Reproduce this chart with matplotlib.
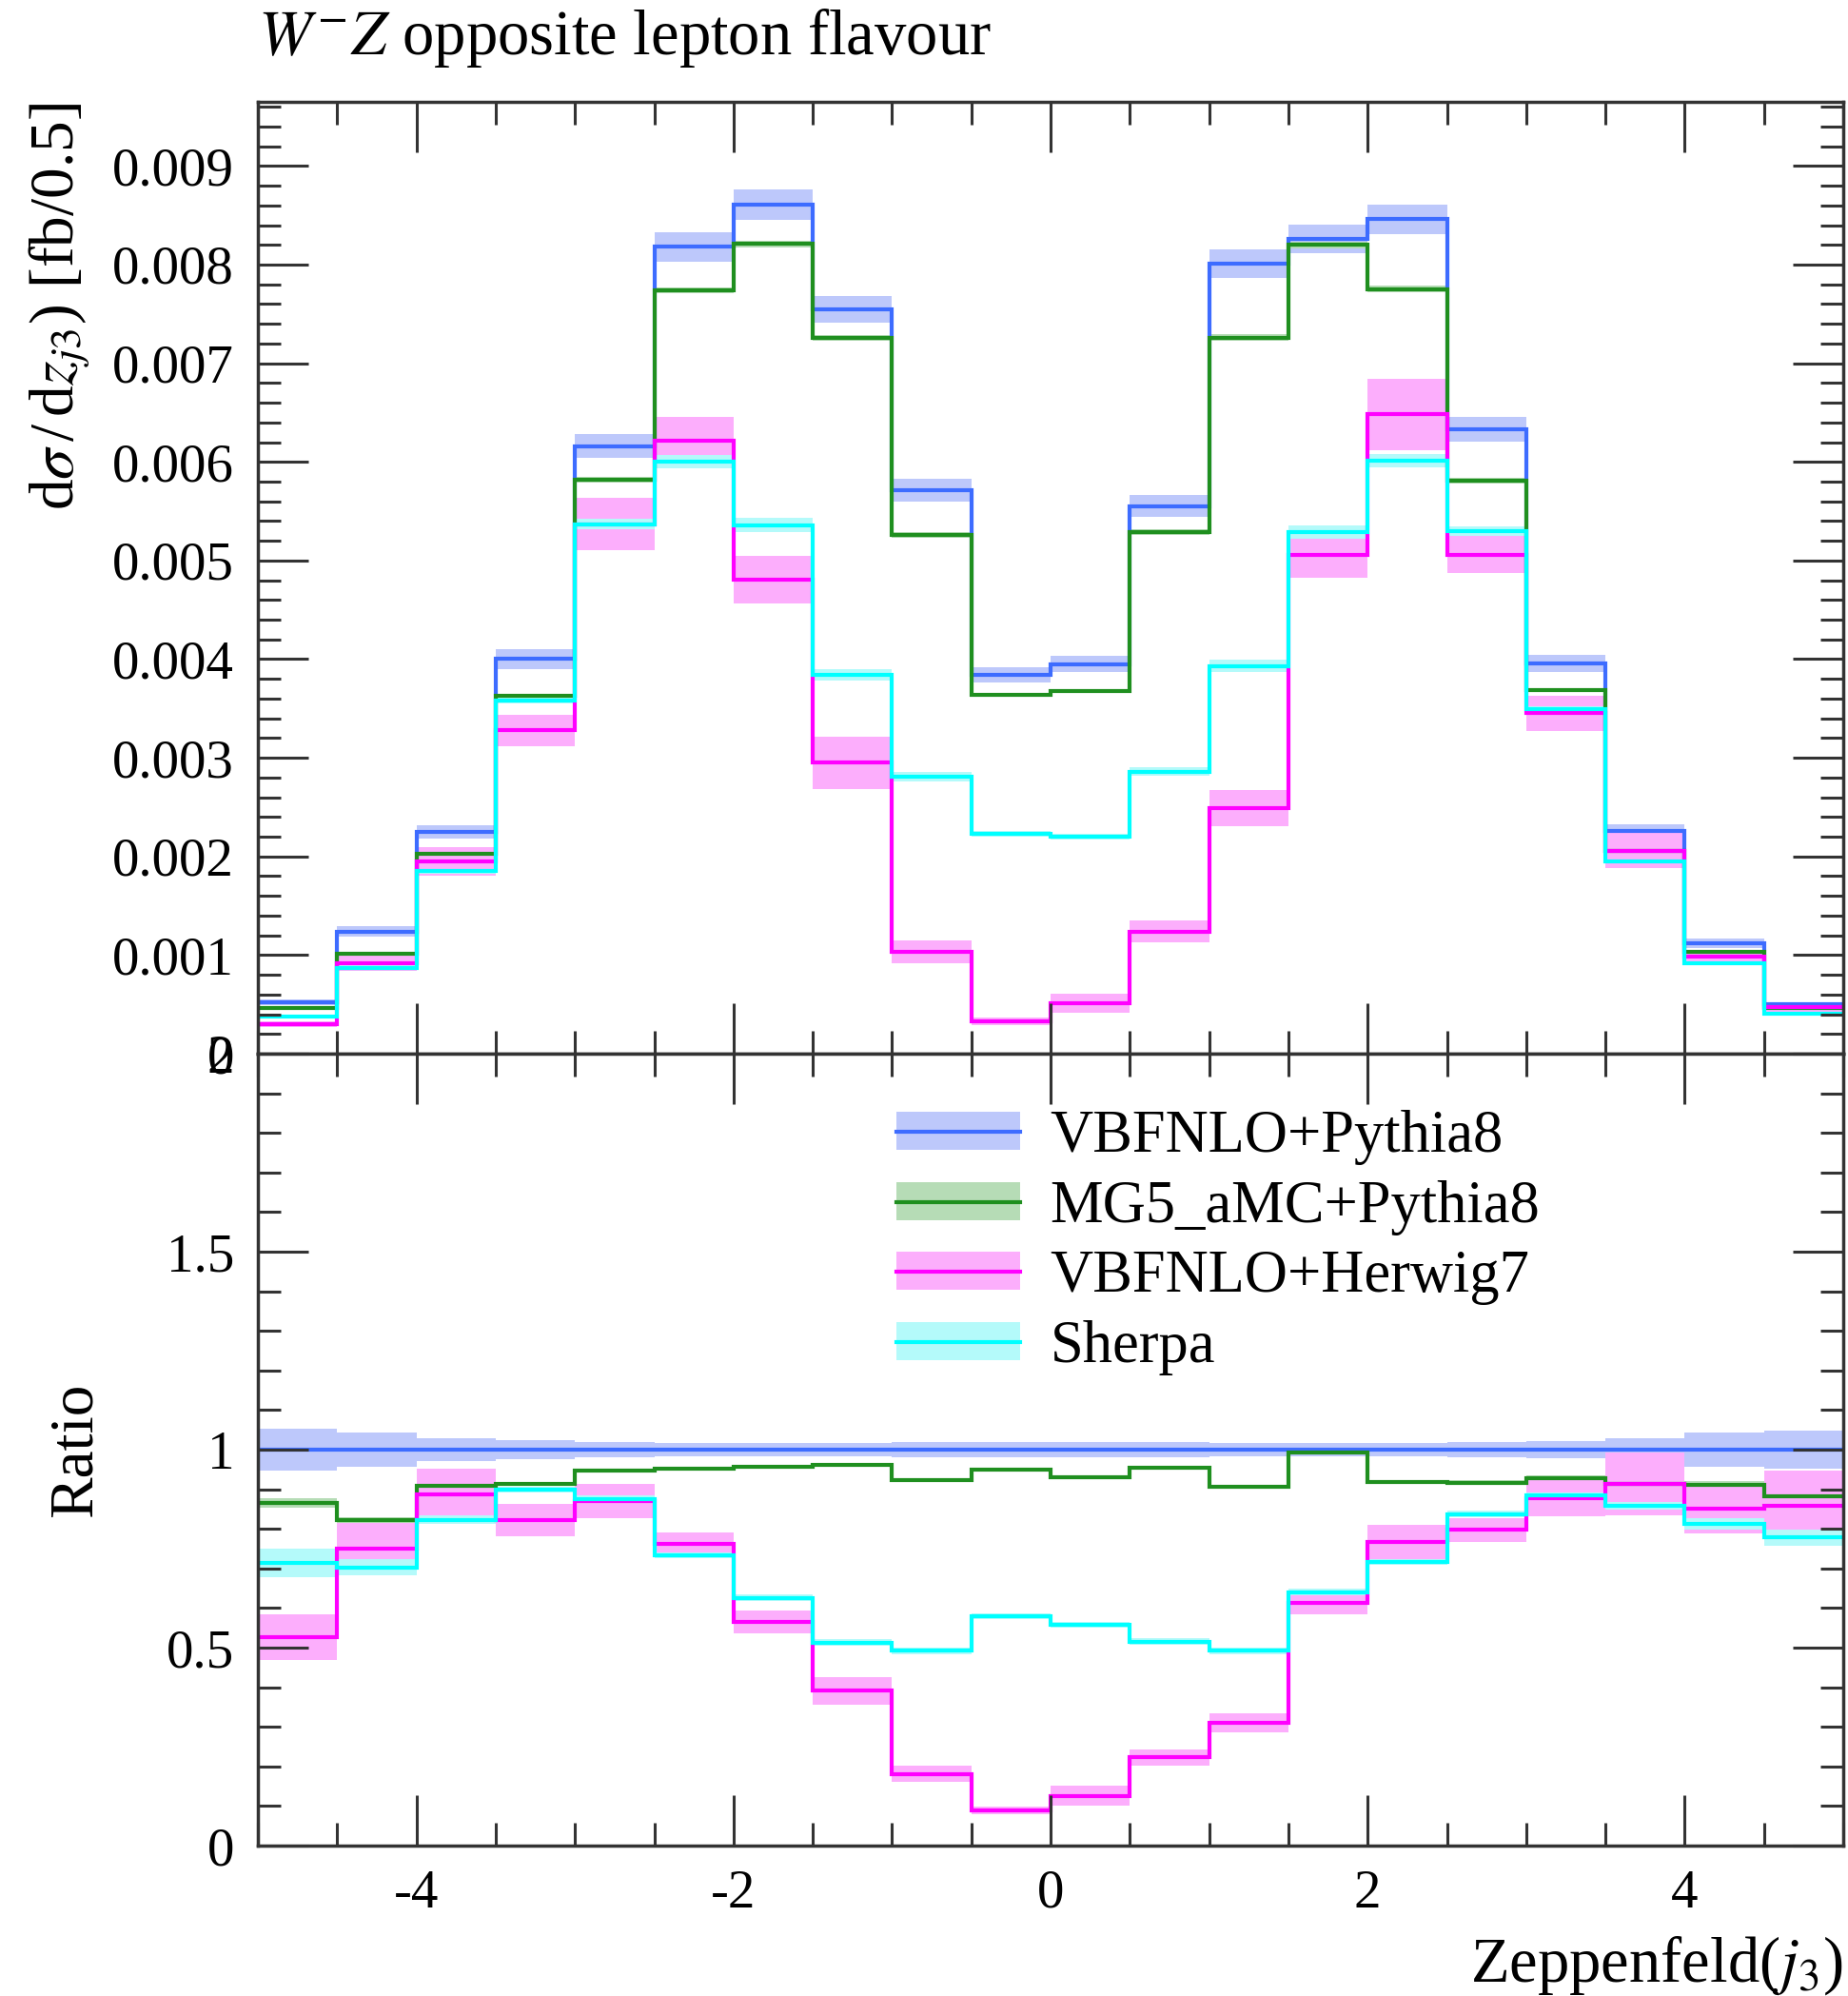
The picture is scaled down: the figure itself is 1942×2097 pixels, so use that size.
import numpy as np
import matplotlib
matplotlib.use('Agg')
import matplotlib.pyplot as plt
from matplotlib.ticker import MultipleLocator, FixedLocator
from matplotlib.patches import Patch
from matplotlib.lines import Line2D

plt.rcParams['font.family'] = ['Liberation Serif', 'DejaVu Serif']
plt.rcParams['mathtext.fontset'] = 'stix'
plt.rcParams['axes.unicode_minus'] = False

# bin edges of Zeppenfeld(j3)
edges = np.arange(-5, 5.01, 0.5)

names = ['VBFNLO+Pythia8', 'MG5_aMC+Pythia8', 'VBFNLO+Herwig7', 'Sherpa']

# d sigma / dz  [fb/0.5]
vbf_py8 = [0.00052, 0.00124, 0.00225, 0.00400, 0.00616, 0.00818, 0.00861, 0.00755, 0.00571, 0.00384,
           0.00395, 0.00555, 0.00801, 0.00826, 0.00846, 0.00633, 0.00396, 0.00226, 0.00112, 0.00050]
mg5_py8 = [0.00046, 0.00101, 0.00203, 0.00363, 0.00582, 0.00774, 0.00821, 0.00726, 0.00526, 0.00364,
           0.00368, 0.00529, 0.00726, 0.00820, 0.00775, 0.00581, 0.00369, 0.00206, 0.00103, 0.00046]
vbf_hw7 = [0.00030, 0.00092, 0.00195, 0.00328, 0.00537, 0.00621, 0.00481, 0.00295, 0.00103, 0.00033,
           0.00051, 0.00124, 0.00249, 0.00506, 0.00648, 0.00506, 0.00345, 0.00206, 0.00098, 0.00047]
sherpa = [0.00038, 0.00087, 0.00185, 0.00358, 0.00537, 0.00600, 0.00536, 0.00384, 0.00281, 0.00223,
          0.00220, 0.00286, 0.00393, 0.00529, 0.00601, 0.00530, 0.00349, 0.00195, 0.00092, 0.00041]

# ratio to VBFNLO+Pythia8
r_py8 = [1.0] * 20
r_mg5 = [0.865, 0.822, 0.909, 0.913, 0.947, 0.951, 0.957, 0.962, 0.923, 0.950,
         0.931, 0.954, 0.907, 0.993, 0.918, 0.917, 0.929, 0.913, 0.910, 0.882]
r_hw7 = [0.526, 0.750, 0.888, 0.822, 0.871, 0.761, 0.565, 0.391, 0.181, 0.089,
         0.126, 0.223, 0.310, 0.613, 0.767, 0.797, 0.877, 0.913, 0.851, 0.858]
r_sherpa = [0.713, 0.703, 0.823, 0.899, 0.876, 0.733, 0.626, 0.513, 0.492, 0.579,
            0.558, 0.515, 0.492, 0.640, 0.716, 0.837, 0.885, 0.858, 0.813, 0.778]

# band half widths (in ratio units)
e_py8 = [0.054, 0.043, 0.030, 0.025, 0.020, 0.018, 0.018, 0.018, 0.020, 0.020,
         0.020, 0.020, 0.018, 0.018, 0.018, 0.020, 0.022, 0.030, 0.043, 0.048]
e_mg5 = [0.012, 0.008, 0.006, 0.005, 0.005, 0.004, 0.004, 0.004, 0.005, 0.005,
         0.005, 0.005, 0.004, 0.004, 0.004, 0.005, 0.005, 0.006, 0.010, 0.012]
e_hw7 = [0.057, 0.065, 0.065, 0.040, 0.043, 0.030, 0.028, 0.035, 0.020, 0.010,
         0.025, 0.020, 0.023, 0.028, 0.043, 0.030, 0.045, 0.080, 0.062, 0.090]
e_sherpa = [0.036, 0.020, 0.010, 0.008, 0.008, 0.008, 0.008, 0.008, 0.008, 0.008,
            0.008, 0.008, 0.008, 0.008, 0.008, 0.008, 0.008, 0.010, 0.015, 0.020]

line_cols = ['#3d6cff', '#1f8f1f', '#ff00ff', '#00ffff']
band_cols = ['#bdc8fb', '#b6dcb6', '#fcaefc', '#b4fafa']

values = [vbf_py8, mg5_py8, vbf_hw7, sherpa]
ratios = [r_py8, r_mg5, r_hw7, r_sherpa]
errs = [e_py8, e_mg5, e_hw7, e_sherpa]
ref = np.array(vbf_py8)

W, H = 1942, 2097
fig = plt.figure(figsize=(W / 100, H / 100), dpi=100)
ax1 = fig.add_axes([271 / W, 1 - 1107 / H, 1666 / W, 1000 / H])
ax2 = fig.add_axes([271 / W, 1 - 1939 / H, 1666 / W, 832 / H])

fs = 41
lw = 3

for i in range(4):
    v = np.array(values[i])
    r = np.array(ratios[i])
    e = np.array(errs[i])
    ax1.stairs(v + e * ref, edges, baseline=v - e * ref, fill=True, color=band_cols[i], lw=0)
    ax2.stairs(r + e, edges, baseline=r - e, fill=True, color=band_cols[i], lw=0)

for i in range(4):
    ax1.stairs(values[i], edges, baseline=None, color=line_cols[i], lw=lw)
    ax2.stairs(ratios[i], edges, baseline=None, color=line_cols[i], lw=lw)

ax1.set_xlim(-5, 5)
ax1.set_ylim(0, 0.00965)
ax2.set_xlim(-5, 5)
ax2.set_ylim(0, 2)

ax1.yaxis.set_major_locator(FixedLocator(np.arange(0, 0.0095, 0.001)))
ax1.yaxis.set_minor_locator(MultipleLocator(0.0002))
ax1.set_yticklabels(['0'] + ['%.3f' % t for t in np.arange(0.001, 0.0095, 0.001)])
ax2.yaxis.set_major_locator(FixedLocator([0, 0.5, 1, 1.5, 2]))
ax2.set_yticklabels(['0', '0.5', '1', '1.5', '2'])
ax2.yaxis.set_minor_locator(MultipleLocator(0.1))

for ax in (ax1, ax2):
    ax.xaxis.set_major_locator(MultipleLocator(2))
    ax.xaxis.set_minor_locator(MultipleLocator(0.5))
    ax.tick_params(which='both', direction='in', top=True, right=True, width=2.2, color='#333333')
    ax.tick_params(which='major', length=38, labelsize=fs, pad=18)
    ax.tick_params(which='minor', length=17)
    for s in ax.spines.values():
        s.set_linewidth(2.5)
        s.set_color('#333333')

ax1.tick_params(axis='x', labelbottom=False)
ax2.tick_params(axis='x', pad=18)

fig.text(271 / W, 1 - 40 / H, r'$W^{-}Z$ opposite lepton flavour', fontsize=48,
         ha='left', va='center')
fig.text(63 / W, 1 - 108 / H, r'd$\sigma\,$/$\,$d$z_{j3}$) [fb/0.5]', fontsize=47,
         rotation=90, ha='center', va='top')
fig.text(80 / W, 1 - 1523 / H, 'Ratio', fontsize=47, rotation=90, ha='center', va='center')
ax2.text(1.0, -0.112, r'Zeppenfeld($j_3$)', fontsize=48, ha='right', va='top',
         transform=ax2.transAxes)

handles = [(Patch(facecolor=band_cols[i], edgecolor='none'),
            Line2D([], [], color=line_cols[i], lw=lw)) for i in range(4)]
ax2.legend(handles, names, loc='upper left', bbox_to_anchor=(0.403, 0.929), frameon=False,
           fontsize=45, handlelength=2.08, handleheight=0.6, handletextpad=0.5,
           labelspacing=0.25, borderpad=0, borderaxespad=0)

fig.savefig('out.png', dpi=100)
